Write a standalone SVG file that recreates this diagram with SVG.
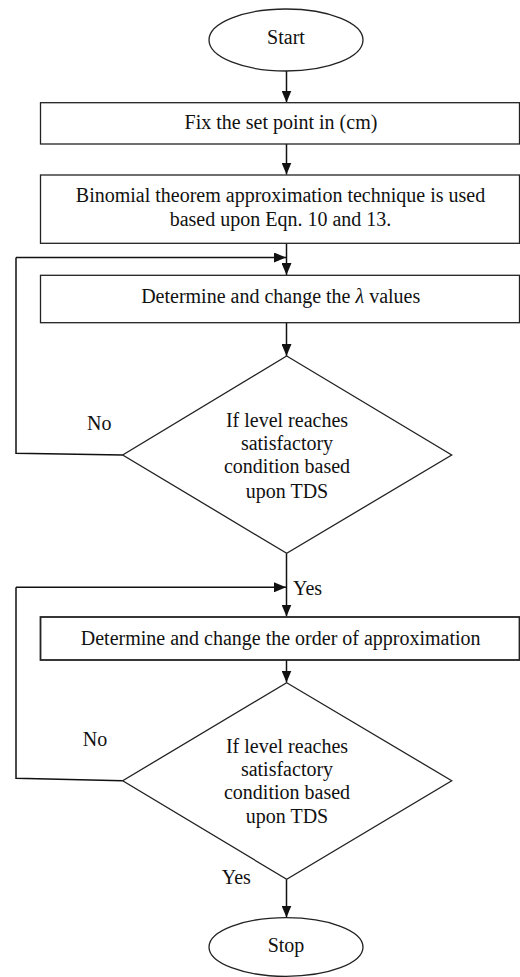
<svg xmlns="http://www.w3.org/2000/svg" width="520" height="977" viewBox="0 0 520 977">
<defs>
<style>
.shape{fill:#fff;stroke:#222;stroke-width:1.3}
.t{font-family:'Liberation Serif','Times New Roman',serif;font-size:20px;fill:#111;text-anchor:middle}
.lbl{font-family:'Liberation Serif','Times New Roman',serif;font-size:20px;fill:#111}
.c{fill:none;stroke:#111;stroke-width:1.5}
</style>
<marker id="arr" markerWidth="12" markerHeight="10" refX="12" refY="5" orient="auto" markerUnits="userSpaceOnUse">
<path d="M0,0 L12,5 L0,10 Z" fill="#111"/>
</marker>
</defs>
<rect width="520" height="977" fill="#fff"/>
<g id="connectors">
<line class="c" x1="286.5" y1="71" x2="286.5" y2="102.5" marker-end="url(#arr)"/>
<line class="c" x1="286.5" y1="144" x2="286.5" y2="174.5" marker-end="url(#arr)"/>
<line class="c" x1="286.5" y1="243.3" x2="286.5" y2="275" marker-end="url(#arr)"/>
<polyline class="c" points="16,257.5 286,257.5" marker-end="url(#arr)"/>
<line class="c" x1="286.5" y1="322.7" x2="286.5" y2="356" marker-end="url(#arr)"/>
<polyline class="c" points="122.7,455 16,453.3 16,257.5"/>
<line class="c" x1="286.5" y1="553.3" x2="286.5" y2="616.5" marker-end="url(#arr)"/>
<polyline class="c" points="16,587.3 286,587.3" marker-end="url(#arr)"/>
<line class="c" x1="286.5" y1="660" x2="286.5" y2="682.5" marker-end="url(#arr)"/>
<polyline class="c" points="122.7,780.7 16,778.3 16,587.3"/>
<line class="c" x1="286.5" y1="879.3" x2="286.5" y2="917.5" marker-end="url(#arr)"/>
<text class="lbl" x="87" y="430">No</text>
<text class="lbl" x="293" y="595">Yes</text>
<text class="lbl" x="82.7" y="746">No</text>
<text class="lbl" x="221.7" y="884">Yes</text>
</g>
<g id="start">
<ellipse class="shape" cx="286" cy="40" rx="77" ry="31"/>
<text class="t" x="286" y="43.5">Start</text>
</g>
<g id="setpoint">
<rect class="shape" x="40.5" y="102.7" width="479" height="41.3"/>
<text class="t" x="281" y="129">Fix the set point in (cm)</text>
</g>
<g id="binomial">
<rect class="shape" x="40.5" y="175" width="479" height="68.3"/>
<text class="t" x="280.5" y="201.5">Binomial theorem approximation technique is used</text>
<text class="t" x="280.5" y="226">based upon Eqn. 10 and 13.</text>
</g>
<g id="lambda">
<rect class="shape" x="40.5" y="275.3" width="479" height="47.4"/>
<text class="t" x="280.7" y="303">Determine and change the <tspan font-style="italic">λ</tspan> values</text>
</g>
<g id="decision1">
<polygon class="shape" points="286.7,356 451.7,455 286.7,553.3 122.7,455"/>
<text class="t" x="287" y="426.7">If level reaches</text>
<text class="t" x="287" y="450">satisfactory</text>
<text class="t" x="287" y="473.3">condition based</text>
<text class="t" x="287" y="497.7">upon TDS</text>
</g>
<g id="order">
<rect class="shape" x="40.5" y="617" width="479" height="43" style="stroke-width:1.8"/>
<text class="t" x="280.7" y="645">Determine and change the order of approximation</text>
</g>
<g id="decision2">
<polygon class="shape" points="286.7,682.7 451.7,780.7 286.7,879.3 122.7,780.7"/>
<text class="t" x="287" y="752.7">If level reaches</text>
<text class="t" x="287" y="776">satisfactory</text>
<text class="t" x="287" y="799.3">condition based</text>
<text class="t" x="287" y="823.3">upon TDS</text>
</g>
<g id="stop">
<ellipse class="shape" cx="286" cy="947" rx="77" ry="29.3"/>
<text class="t" x="286" y="951.7">Stop</text>
</g>
</svg>
